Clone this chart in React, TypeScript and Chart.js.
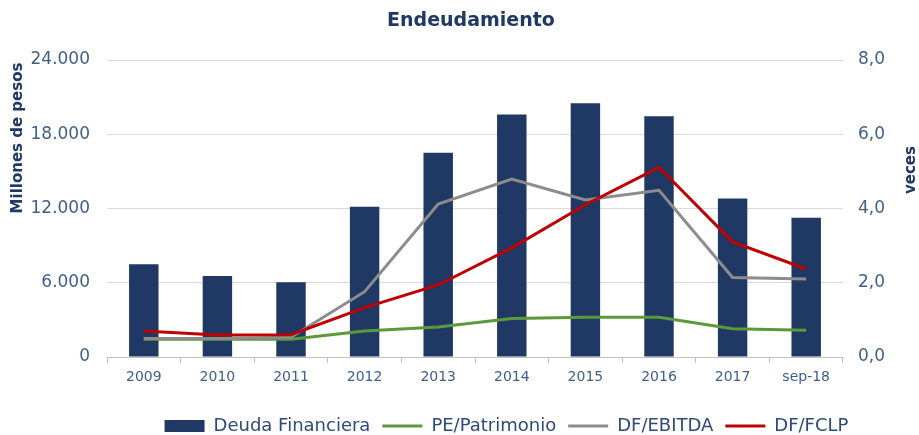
import React, { useEffect, useRef } from "react";
import { Chart, registerables } from "chart.js";

Chart.register(...registerables);

const categories = ["2009", "2010", "2011", "2012", "2013", "2014", "2015", "2016", "2017", "sep-18"];
const deudaFinanciera = [7500, 6550, 6050, 12150, 16500, 19600, 20500, 19450, 12800, 11250];
const pePatrimonio = [0.48, 0.48, 0.48, 0.7, 0.81, 1.04, 1.07, 1.07, 0.76, 0.72];
const dfEbitda = [0.5, 0.5, 0.53, 1.76, 4.12, 4.79, 4.23, 4.49, 2.14, 2.1];
const dfFclp = [0.7, 0.59, 0.6, 1.33, 1.94, 2.94, 4.1, 5.11, 3.1, 2.37];

const seriesLabels = ["Deuda Financiera", "PE/Patrimonio", "DF/EBITDA", "DF/FCLP"];
const chartTitle = "Endeudamiento";
const leftAxisTitle = "Millones de pesos";
const rightAxisTitle = "veces";

const FONT = "'DejaVu Sans', Verdana, sans-serif";
const NAVY = "#1F3864";
const TICK = "#3F5F8A";

const textPlugin = {
  id: "customTexts",
  afterLayout(chart: any) {
    const lg = chart.legend;
    if (lg) {
      lg.left += 47;
      lg.right += 47;
    }
  },
  afterDraw(chart: any) {
    const ctx = chart.ctx;
    ctx.save();
    ctx.fillStyle = NAVY;
    ctx.textAlign = "center";
    ctx.textBaseline = "middle";
    ctx.font = `bold 19px ${FONT}`;
    ctx.fillText(chartTitle, 471, 21);
    ctx.font = `bold 15px ${FONT}`;
    ctx.save();
    ctx.translate(18, 138);
    ctx.rotate(-Math.PI / 2);
    ctx.fillText(leftAxisTitle, 0, 0);
    ctx.restore();
    ctx.save();
    ctx.translate(911, 170);
    ctx.rotate(-Math.PI / 2);
    ctx.fillText(rightAxisTitle, 0, 0);
    ctx.restore();
    ctx.restore();
  },
};

export default function App() {
  const canvasRef = useRef<HTMLCanvasElement | null>(null);

  useEffect(() => {
    document.body.style.margin = "0";
    const canvas = canvasRef.current;
    if (!canvas) return;
    const colors = [NAVY, "#5B9A3A", "#8C8C8C", "#C00000"];
    const chart = new Chart(canvas, {
      type: "bar",
      data: {
        labels: categories,
        datasets: [
          {
            type: "bar",
            label: seriesLabels[0],
            data: deudaFinanciera,
            backgroundColor: colors[0],
            yAxisID: "y",
            barPercentage: 0.4,
            categoryPercentage: 1,
            order: 10,
          } as any,
          {
            type: "line",
            label: seriesLabels[1],
            data: pePatrimonio,
            borderColor: colors[1],
            backgroundColor: colors[1],
            borderWidth: 3,
            pointRadius: 0,
            tension: 0,
            yAxisID: "y1",
            order: 3,
          },
          {
            type: "line",
            label: seriesLabels[2],
            data: dfEbitda,
            borderColor: colors[2],
            backgroundColor: colors[2],
            borderWidth: 3,
            pointRadius: 0,
            tension: 0,
            yAxisID: "y1",
            order: 2,
          },
          {
            type: "line",
            label: seriesLabels[3],
            data: dfFclp,
            borderColor: colors[3],
            backgroundColor: colors[3],
            borderWidth: 3,
            pointRadius: 0,
            tension: 0,
            yAxisID: "y1",
            order: 1,
          },
        ],
      },
      options: {
        responsive: false,
        animation: false,
        layout: { padding: { top: 60, bottom: -10, left: 0, right: 0 } },
        plugins: {
          title: { display: false },
          tooltip: { enabled: false },
          legend: {
            display: true,
            position: "bottom",
            labels: {
              usePointStyle: true,
              pointStyleWidth: 40,
              boxHeight: 12,
              padding: 12,
              color: "#2E4A78",
              font: { family: FONT, size: 18 },
              generateLabels: (c: any) =>
                c.data.datasets.map((ds: any, i: number) => ({
                  text: ds.label,
                  fillStyle: colors[i],
                  strokeStyle: colors[i],
                  lineWidth: i === 0 ? 0 : 3,
                  pointStyle: i === 0 ? "rect" : "line",
                  hidden: false,
                  datasetIndex: i,
                  fontColor: "#2E4A78",
                })),
            },
          },
        },
        scales: {
          x: {
            offset: true,
            grid: {
              offset: true,
              drawOnChartArea: false,
              drawTicks: true,
              tickLength: 6,
              color: "#BFBFBF",
            },
            border: { display: true, color: "#BFBFBF", width: 1 },
            ticks: { color: TICK, font: { family: FONT, size: 14 }, padding: 6, maxRotation: 0, autoSkip: false },
            afterFit: (s: any) => {
              s.height = 48;
            },
          },
          y: {
            position: "left",
            min: 0,
            max: 24000,
            ticks: {
              stepSize: 6000,
              color: TICK,
              font: { family: FONT, size: 17 },
              padding: 17,
              callback: (v: any) => String(v).replace(/\B(?=(\d{3})+(?!\d))/g, "."),
            },
            grid: { color: "#D9D9D9", drawTicks: false, lineWidth: 1 },
            border: { display: false },
            afterFit: (s: any) => {
              s.width = 107;
            },
          },
          y1: {
            position: "right",
            min: 0,
            max: 8,
            ticks: {
              stepSize: 2,
              color: TICK,
              font: { family: FONT, size: 17 },
              padding: 15,
              callback: (v: any) => Number(v).toFixed(1).replace(".", ","),
            },
            grid: { display: false, drawTicks: false },
            border: { display: false },
            afterFit: (s: any) => {
              s.width = 76;
            },
          },
        },
      },
      plugins: [textPlugin],
    });
    return () => chart.destroy();
  }, []);

  return (
    <div style={{ width: 919, height: 435, background: "#fff" }}>
      <canvas ref={canvasRef} width={919} height={435} style={{ display: "block" }} />
    </div>
  );
}
